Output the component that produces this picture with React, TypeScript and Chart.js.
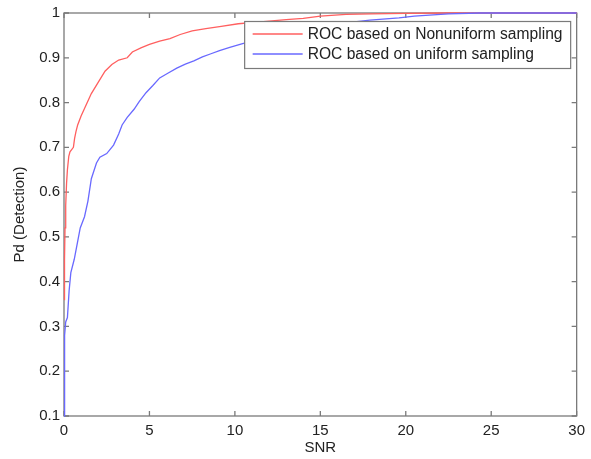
import React, { useEffect, useRef } from "react";
import { Chart, registerables } from "chart.js";

Chart.register(...registerables);

const seriesLabels = ["ROC based on Nonuniform sampling", "ROC based on uniform sampling"];

const redSnr = [0, 0.03, 0.06, 0.1, 0.15, 0.2, 0.28, 0.35, 0.55, 0.62, 0.7, 0.8, 1.0, 1.3, 1.6, 2.0, 2.4, 2.8, 3.2, 3.7, 4.0, 4.5, 5.0, 5.6, 6.2, 6.8, 7.5, 8.3, 9.2, 10.2, 11.5, 13, 14, 15, 16.5, 18, 20, 22.5, 30];
const redPd = [0.36, 0.45, 0.52, 0.57, 0.62, 0.65, 0.68, 0.69, 0.7, 0.72, 0.735, 0.75, 0.77, 0.795, 0.82, 0.845, 0.87, 0.885, 0.895, 0.9, 0.913, 0.922, 0.93, 0.937, 0.943, 0.952, 0.96, 0.965, 0.97, 0.976, 0.98, 0.985, 0.988, 0.993, 0.997, 0.998, 0.999, 1.0, 1.0];

const blueSnr = [0, 0.02, 0.05, 0.1, 0.2, 0.3, 0.4, 0.6, 0.8, 0.95, 1.2, 1.4, 1.6, 1.9, 2.1, 2.5, 2.9, 3.2, 3.4, 3.7, 4.1, 4.4, 4.8, 5.2, 5.6, 6.1, 6.6, 7.1, 7.6, 8.1, 8.6, 9.1, 9.7, 10.4, 11.5, 13, 14.5, 16, 17, 17.9, 19.6, 20.5, 21.6, 22.5, 24.3, 30];
const bluePd = [0.1, 0.2, 0.28, 0.31, 0.32, 0.38, 0.42, 0.45, 0.49, 0.52, 0.545, 0.58, 0.63, 0.665, 0.678, 0.686, 0.705, 0.73, 0.75, 0.767, 0.785, 0.802, 0.822, 0.838, 0.855, 0.866, 0.877, 0.886, 0.893, 0.902, 0.909, 0.916, 0.923, 0.931, 0.942, 0.956, 0.967, 0.975, 0.98, 0.984, 0.989, 0.993, 0.996, 0.998, 1.0, 1.0];

const xTicks = [0, 5, 10, 15, 20, 25, 30];
const yTicks = [0.1, 0.2, 0.3, 0.4, 0.5, 0.6, 0.7, 0.8, 0.9, 1];

const FONT = "'Liberation Sans', Arial, sans-serif";
const RED = "rgb(255,95,95)";
const BLUE = "rgb(105,105,255)";
const AXIS = "#7a7a7a";

const toPts = (xs: number[], ys: number[]) => xs.map((x, i) => ({ x, y: ys[i] }));

const matlabAxes = {
  id: "matlabAxes",
  beforeDatasetsDraw(chart: any) {
    const { ctx, chartArea: a, scales } = chart;
    ctx.save();
    ctx.strokeStyle = AXIS;
    ctx.lineWidth = 1.3;
    ctx.strokeRect(a.left, a.top, a.right - a.left, a.bottom - a.top);
    const L = 5;
    ctx.beginPath();
    xTicks.forEach((t) => {
      const px = scales.x.getPixelForValue(t);
      ctx.moveTo(px, a.bottom);
      ctx.lineTo(px, a.bottom - L);
      ctx.moveTo(px, a.top);
      ctx.lineTo(px, a.top + L);
    });
    yTicks.forEach((t) => {
      const py = scales.y.getPixelForValue(t);
      ctx.moveTo(a.left, py);
      ctx.lineTo(a.left + L, py);
      ctx.moveTo(a.right, py);
      ctx.lineTo(a.right - L, py);
    });
    ctx.stroke();
    ctx.restore();
  },
  afterDatasetsDraw(chart: any) {
    const { ctx, chartArea: a } = chart;
    const w = 326, h = 47;
    const x0 = a.right - 6 - w;
    const y0 = a.top + 8.5;
    ctx.save();
    ctx.fillStyle = "#fff";
    ctx.fillRect(x0, y0, w, h);
    ctx.strokeStyle = AXIS;
    ctx.lineWidth = 1.2;
    ctx.strokeRect(x0, y0, w, h);
    ctx.font = `15.6px ${FONT}`;
    ctx.textBaseline = "middle";
    chart.data.datasets.forEach((ds: any, i: number) => {
      const cy = y0 + 12.5 + i * 20;
      ctx.strokeStyle = ds.borderColor;
      ctx.lineWidth = 1.3;
      ctx.beginPath();
      ctx.moveTo(x0 + 8, cy);
      ctx.lineTo(x0 + 58, cy);
      ctx.stroke();
      ctx.fillStyle = "#222";
      ctx.fillText(ds.label, x0 + 63, cy + 1);
    });
    ctx.restore();
  },
};

export default function App() {
  const ref = useRef<HTMLCanvasElement>(null);
  useEffect(() => {
    document.body.style.margin = "0";
    const chart = new Chart(ref.current!, {
      type: "line",
      data: {
        datasets: [
          {
            label: seriesLabels[0],
            data: toPts(redSnr, redPd),
            borderColor: RED,
            borderWidth: 1.3,
            pointRadius: 0,
            fill: false,
            tension: 0,
            order: 1,
            clip: false,
          },
          {
            label: seriesLabels[1],
            data: toPts(blueSnr, bluePd),
            borderColor: BLUE,
            borderWidth: 1.3,
            pointRadius: 0,
            fill: false,
            tension: 0,
            order: 0,
            clip: false,
          },
        ],
      },
      options: {
        animation: false,
        responsive: false,
        maintainAspectRatio: false,
        layout: { padding: { top: 12, right: 14, left: 0, bottom: 0 } },
        plugins: { legend: { display: false }, tooltip: { enabled: false } },
        scales: {
          x: {
            type: "linear",
            min: 0,
            max: 30,
            afterBuildTicks: (s: any) => {
              s.ticks = xTicks.map((v) => ({ value: v }));
            },
            afterFit: (s: any) => {
              s.height = 43;
            },
            grid: { display: false, drawTicks: false },
            border: { display: false },
            ticks: { color: "#222", font: { family: FONT, size: 15 }, padding: 6, maxRotation: 0, callback: (v: any) => String(v) },
            title: { display: true, text: "SNR", color: "#222", font: { family: FONT, size: 15 }, padding: { top: 0, bottom: 2 } },
          },
          y: {
            type: "linear",
            min: 0.1,
            max: 1,
            afterBuildTicks: (s: any) => {
              s.ticks = yTicks.map((v) => ({ value: v }));
            },
            afterFit: (s: any) => {
              s.width = 64;
            },
            grid: { display: false, drawTicks: false },
            border: { display: false },
            ticks: { color: "#222", font: { family: FONT, size: 15 }, padding: 4, callback: (v: any) => String(Number(Number(v).toFixed(1))) },
            title: { display: true, text: "Pd (Detection)", color: "#222", font: { family: FONT, size: 15 }, padding: { top: 11, bottom: 0 } },
          },
        },
      },
      plugins: [matlabAxes],
    });
    return () => chart.destroy();
  }, []);
  return (
    <div style={{ width: 591, height: 459 }}>
      <canvas ref={ref} width={591} height={459} style={{ display: "block", width: 591, height: 459 }} />
    </div>
  );
}
